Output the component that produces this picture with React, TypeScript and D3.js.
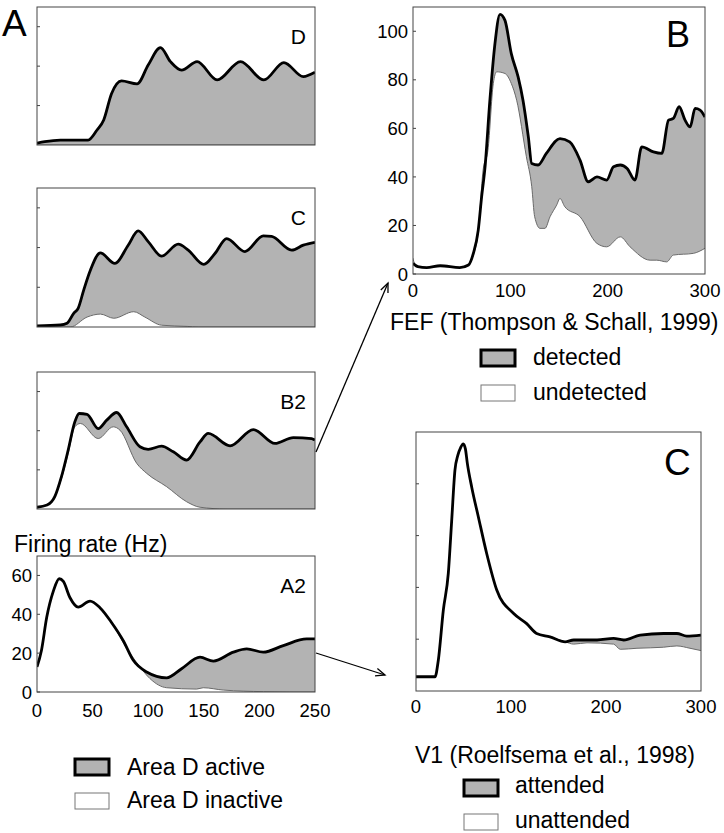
import React from "react";
import * as d3 from "d3";

type Pt = [number, number];

// ---------- DATA ----------
const panelAXTicks = [0, 50, 100, 150, 200, 250];
const panelAYTicks = [0, 20, 40, 60];
const fefXTicks = [0, 100, 200, 300];
const fefYTicks = [0, 20, 40, 60, 80, 100];
const v1XTicks = [0, 100, 200, 300];
const v1YTicks = [20, 40, 60, 80];

const dActive: Pt[] = [[0,0.9],[7,1.7],[21,2.5],[46,2.5],[54,7.6],[60,12.7],[67,26],[76,32.5],[90,31],[100,40.6],[111,49.4],[120,42.3],[130,38],[144,42.3],[162,33],[183,42.3],[204,33],[222,41.8],[239.5,34.7],[250,36.9]];
const dInactive: Pt[] = [[0,0],[250,0]];

const cActive: Pt[] = [[0,0.5],[21,1],[27,1.9],[33,6.9],[37,9.4],[42,18.6],[48,28.6],[57,37.3],[70,32],[82,41.2],[91,48.4],[100,43],[112,35.7],[127,41.7],[136,38.7],[150,31.5],[160,37],[170.6,44.5],[187,38],[203.5,45.9],[211,45.6],[229,38.7],[239.5,41.2],[250,42.6]];
const cInactive: Pt[] = [[0,0],[30,0],[45,5],[57,6.5],[69,4.4],[87,7.7],[97,5],[112,0.9],[135,0.3],[145,0],[250,0]];

const b2Active: Pt[] = [[0,0.9],[9,2],[16,6.3],[22,16.5],[28,30],[34,44.5],[38,48.8],[45,48.4],[55,41.1],[62.7,45.4],[71.6,49.3],[80.6,42],[92.6,31.8],[100,30.5],[112,32.1],[122.6,29.2],[134.6,25],[146.6,34.3],[154,38.6],[173.6,32.3],[194.5,40.6],[214,33.5],[230.5,36.5],[247,36],[250,35.2]];
const b2Inactive: Pt[] = [[0,0.9],[9,2],[16,6.3],[22,15.5],[28,28.3],[34,42],[39,43.7],[55,36],[68.6,42],[74.6,40.3],[89.7,23.3],[98.7,18.2],[116.6,11.4],[134.6,3.7],[146.6,0.9],[170,0],[250,0]];

const a2Active: Pt[] = [[0,12.9],[4,21.4],[8.7,38.3],[14.7,51.9],[20,58.3],[23.7,56.9],[29.7,48.5],[37,43.7],[47.7,46.8],[56.6,43.4],[67,35.8],[77.6,26.4],[86.6,16.3],[98.6,10.3],[116.6,7.3],[130,12],[146.6,17.9],[158.6,15.9],[176.6,20.5],[188.6,22.2],[203.5,20.5],[221.5,23.9],[242.5,27.3],[250,27.3]];
const a2Inactive: Pt[] = [[0,12.9],[4,21.4],[8.7,38.3],[14.7,51.9],[20,58.3],[23.7,56.9],[29.7,48.5],[37,43.7],[47.7,46.8],[56.6,43.4],[67,35.8],[77.6,25.4],[92.6,12.9],[101.6,6.9],[116.6,2.2],[143.6,1.5],[149.5,2.2],[167.5,1],[203.5,0.2],[250,0]];

const fefDetected: Pt[] = [[0,4.4],[5,3],[14,2.6],[28,3.4],[48,2.6],[57,3.7],[62,8.5],[67,18],[70.5,31.8],[74,44],[79,71.6],[84,94.2],[89.4,107],[94.5,104.5],[101,90.8],[108,81.2],[113,71.6],[118.5,56.5],[122,45.5],[128.5,44.9],[137,49.7],[151,55.8],[161,54.4],[171.6,46.9],[180,38],[189,40],[199,38.7],[206,44.2],[213,44.9],[220,43.5],[228,38.7],[235,52.4],[247,50.3],[255.6,49.7],[262.5,63.4],[267.5,64.1],[273.4,68.9],[279.5,63.4],[284.7,60.6],[289.8,68.2],[295,67.5],[300,64.7]];
const fefUndetected: Pt[] = [[0,6.5],[3,3],[14,2.6],[28,3.4],[48,2.6],[57,3.7],[62,8],[67,17],[72,42.8],[77,51],[82.5,78.5],[86,83.3],[94.5,82.6],[101,78.5],[106.5,71.6],[116.5,48.3],[122,36],[125,23.6],[130.5,18.8],[135.6,18.8],[140.8,23.6],[147.6,28.4],[151,31.1],[156,27.7],[171.6,23.6],[189,12.6],[199,11.2],[213,15.3],[223,11.2],[243.6,5.7],[250.4,5.7],[260.7,5],[267.5,7.8],[288,8.5],[300,10.6]];

const v1Attended: Pt[] = [[0,5.5],[20,5.5],[23.5,11.9],[28.8,31.3],[34,45.4],[37.6,66],[41,85.3],[44,91],[47,94],[49.8,95.4],[52,93.5],[54,88],[58.6,78.8],[65.6,67.3],[74.4,53.1],[85,39],[102.5,30],[116.5,26],[127,22.2],[141,20.9],[157,19],[166,19.7],[190.6,19.7],[208,20.3],[218.6,19.7],[236,21.6],[260.5,22.2],[274.6,22.2],[285,21.2],[300,21.6]];
const v1Unattended: Pt[] = [[0,5.5],[20,5.5],[23.5,11.9],[28.8,31.3],[34,45.4],[37.6,66],[41,85.3],[44,91],[47,94],[49.8,95.4],[52,93.5],[54,88],[58.6,78.8],[65.6,67.3],[74.4,53.1],[85,39],[102.5,30],[116.5,26],[127,22.2],[141,20.9],[157,19],[166,18.1],[180,18.6],[208,18.1],[215,16.1],[232.6,16.5],[260.5,16.9],[274.6,17.4],[288.4,16.5],[300,15.6]];

const legendA = ["Area D active", "Area D inactive"];
const legendB = ["detected", "undetected"];
const legendC = ["attended", "unattended"];

// ---------- STYLE ----------
const FONT = "'Liberation Sans', Arial, Helvetica, sans-serif";
const GRAY = "#b3b3b3";
const TICK_FS = 18.5;
const LABEL_FS = 23;

interface PanelProps {
  id: string;
  left: number; right: number; top: number; bottom: number;
  xDomain: [number, number]; yDomain: [number, number];
  active: Pt[]; inactive: Pt[];
  yTicks: number[]; xTicks?: number[];
  showYLabels?: boolean; showXLabels?: boolean;
  xLabelBaseline?: number;
  yLabelRight?: number;
  label?: string; labelSize?: number;
}

function Panel(p: PanelProps) {
  const x = d3.scaleLinear().domain(p.xDomain).range([p.left, p.right]);
  const y = d3.scaleLinear().domain(p.yDomain).range([p.bottom, p.top]);
  const curve = d3.curveMonotoneX;
  const area = d3.area<Pt>().x(d => x(d[0])).y0(y(0)).y1(d => y(d[1])).curve(curve);
  const line = d3.line<Pt>().x(d => x(d[0])).y(d => y(d[1])).curve(curve);
  const clipId = "clip-" + p.id;
  return (
    <g>
      <defs>
        <clipPath id={clipId}>
          <rect x={p.left} y={p.top} width={p.right - p.left} height={p.bottom - p.top} />
        </clipPath>
      </defs>
      <rect x={p.left} y={p.top} width={p.right - p.left} height={p.bottom - p.top} fill="#fff" />
      <g clipPath={`url(#${clipId})`}>
        <path d={area(p.active) || ""} fill={GRAY} />
        <path d={area(p.inactive) || ""} fill="#fff" />
        <path d={line(p.inactive) || ""} fill="none" stroke="#6a6a6a" strokeWidth={1} />
        <path d={line(p.active) || ""} fill="none" stroke="#000" strokeWidth={2.8} strokeLinejoin="round" />
      </g>
      <rect x={p.left} y={p.top} width={p.right - p.left} height={p.bottom - p.top} fill="none" stroke="#444" strokeWidth={1} />
      {p.yTicks.map(t => (
        <g key={"y" + t}>
          <line x1={p.left} x2={p.left + 3} y1={y(t)} y2={y(t)} stroke="#444" strokeWidth={1} />
          {p.showYLabels && (
            <text x={p.yLabelRight} y={y(t)} dy="0.36em" textAnchor="end" fontSize={TICK_FS} fontFamily={FONT}>{t}</text>
          )}
        </g>
      ))}
      {p.showXLabels && p.xTicks && p.xTicks.map(t => (
        <text key={"x" + t} x={x(t)} y={p.xLabelBaseline} textAnchor="middle" fontSize={TICK_FS} fontFamily={FONT}>{t}</text>
      ))}
      {p.label && (
        <text x={p.right - 9} y={p.top + 37} textAnchor="end" fontSize={p.labelSize || 21} fontFamily={FONT}>{p.label}</text>
      )}
    </g>
  );
}

function LegendBox({ x, y, active }: { x: number; y: number; active: boolean }) {
  return active ? (
    <rect x={x} y={y} width={34} height={16} fill={GRAY} stroke="#000" strokeWidth={3} />
  ) : (
    <rect x={x} y={y} width={34} height={16} fill="#fff" stroke="#777" strokeWidth={1} />
  );
}

function Arrow({ x1, y1, x2, y2 }: { x1: number; y1: number; x2: number; y2: number }) {
  const ang = Math.atan2(y2 - y1, x2 - x1);
  const L = 10, a = 0.4;
  const p1 = [x2 - L * Math.cos(ang - a), y2 - L * Math.sin(ang - a)];
  const p2 = [x2 - L * Math.cos(ang + a), y2 - L * Math.sin(ang + a)];
  return (
    <g stroke="#000" strokeWidth={1.3} fill="none">
      <line x1={x1} y1={y1} x2={x2} y2={y2} />
      <polyline points={`${p1[0]},${p1[1]} ${x2},${y2} ${p2[0]},${p2[1]}`} />
    </g>
  );
}

export default function App() {
  const A = { left: 37, right: 315 };
  const aY: [number, number] = [0, 70];
  return (
    <svg width={724} height={833} style={{ position: "absolute", left: 0, top: 0, background: "#fff" }} fontFamily={FONT}>
      <rect x={0} y={0} width={724} height={833} fill="#fff" />
      <text x={2} y={36} fontSize={37} fontFamily={FONT}>A</text>

      <Panel id="d" {...A} top={7} bottom={145} xDomain={[0, 250]} yDomain={aY}
        active={dActive} inactive={dInactive} yTicks={[20, 40, 60]} label="D" />
      <Panel id="c" {...A} top={188} bottom={327} xDomain={[0, 250]} yDomain={aY}
        active={cActive} inactive={cInactive} yTicks={[20, 40, 60]} label="C" />
      <Panel id="b2" {...A} top={372} bottom={509} xDomain={[0, 250]} yDomain={aY}
        active={b2Active} inactive={b2Inactive} yTicks={[20, 40, 60]} label="B2" />
      <Panel id="a2" {...A} top={556} bottom={692} xDomain={[0, 250]} yDomain={aY}
        active={a2Active} inactive={a2Inactive} yTicks={panelAYTicks} showYLabels yLabelRight={32}
        xTicks={panelAXTicks} showXLabels xLabelBaseline={717} label="A2" />

      <text x={14} y={552} fontSize={LABEL_FS} fontFamily={FONT}>Firing rate (Hz)</text>

      <LegendBox x={75} y={759} active />
      <text x={127} y={775} fontSize={LABEL_FS} fontFamily={FONT}>{legendA[0]}</text>
      <LegendBox x={75} y={793} active={false} />
      <text x={127} y={808} fontSize={LABEL_FS} fontFamily={FONT}>{legendA[1]}</text>

      {/* Panel B */}
      <Panel id="fef" left={413} right={705} top={7} bottom={274} xDomain={[0, 300]} yDomain={[0, 110]}
        active={fefDetected} inactive={fefUndetected} yTicks={fefYTicks} showYLabels yLabelRight={408}
        xTicks={fefXTicks} showXLabels xLabelBaseline={297} />
      <text x={666} y={47} fontSize={36} fontFamily={FONT}>B</text>
      <text x={390} y={330} fontSize={LABEL_FS} fontFamily={FONT}>FEF (Thompson &amp; Schall, 1999)</text>
      <LegendBox x={481} y={350} active />
      <text x={533} y={365} fontSize={LABEL_FS} fontFamily={FONT}>{legendB[0]}</text>
      <LegendBox x={481} y={385} active={false} />
      <text x={533} y={400} fontSize={LABEL_FS} fontFamily={FONT}>{legendB[1]}</text>

      {/* Panel C */}
      <Panel id="v1" left={416} right={701} top={432} bottom={691} xDomain={[0, 300]} yDomain={[0, 100]}
        active={v1Attended} inactive={v1Unattended} yTicks={v1YTicks}
        xTicks={v1XTicks} showXLabels xLabelBaseline={713} />
      <text x={664} y={475} fontSize={37} fontFamily={FONT}>C</text>
      <text x={415} y={763} fontSize={LABEL_FS} fontFamily={FONT}>V1 (Roelfsema et al., 1998)</text>
      <LegendBox x={464} y={780} active />
      <text x={515} y={793} fontSize={LABEL_FS} fontFamily={FONT}>{legendC[0]}</text>
      <LegendBox x={464} y={814} active={false} />
      <text x={515} y={828} fontSize={LABEL_FS} fontFamily={FONT}>{legendC[1]}</text>

      <Arrow x1={316} y1={452} x2={388} y2={283} />
      <Arrow x1={316} y1={653} x2={385} y2={675} />
    </svg>
  );
}
